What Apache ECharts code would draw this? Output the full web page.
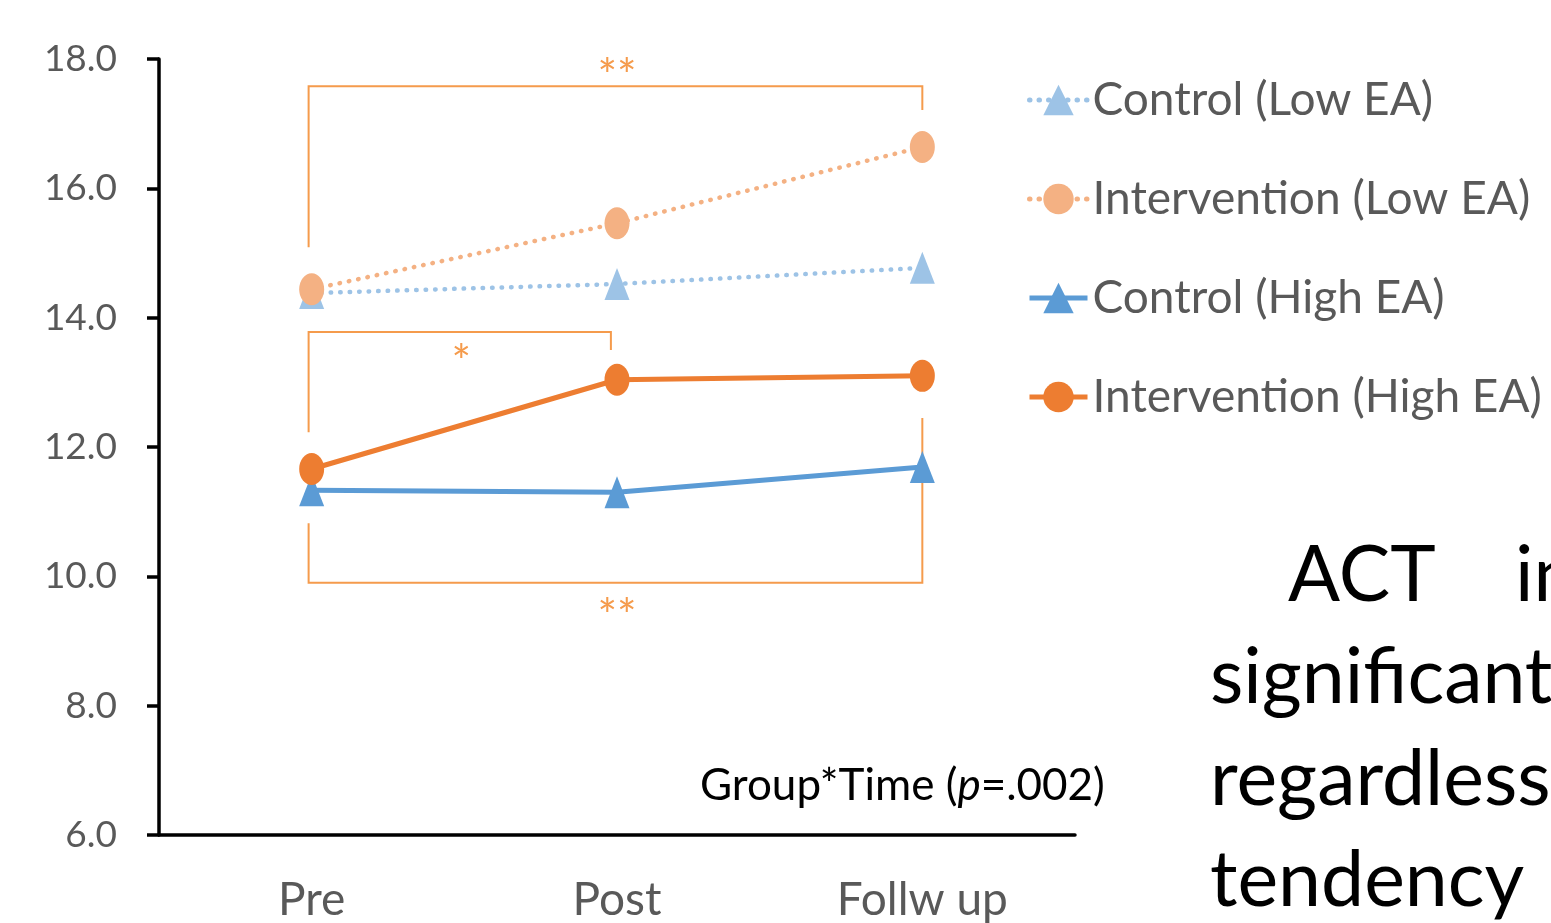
<!DOCTYPE html>
<html>
<head>
<meta charset="utf-8">
<style>
  html, body { margin: 0; padding: 0; background: #fff; }
  #chart { width: 1551px; height: 923px; }
</style>
<script src="https://cdn.jsdelivr.net/npm/echarts@6/dist/echarts.min.js"></script>
</head>
<body>
<div id="chart"></div>
<script>
// categories and series values
var timePoints = ["Pre", "Post", "Follw up"];
var controlLow = [14.38, 14.52, 14.77];
var interventionLow = [14.44, 15.46, 16.64];
var controlHigh = [11.33, 11.30, 11.69];
var interventionHigh = [11.66, 13.04, 13.10];
var seriesNames = ["Control (Low EA)", "Intervention (Low EA)", "Control (High EA)", "Intervention (High EA)"];

// significance brackets, in (category index, score) units
var bracketTop = [[-0.01, 15.09], [-0.01, 17.58], [2, 17.58], [2, 17.21]];
var bracketMid = [[-0.01, 12.23], [-0.01, 13.78], [0.98, 13.78], [0.98, 13.50]];
var bracketBottom = [[-0.01, 10.82], [-0.01, 9.90], [2, 9.90], [2, 12.45]];
var starLabels = [
  { text: "**", x: 1, y: 17.72 },
  { text: "*", x: 0.49, y: 13.30 },
  { text: "**", x: 1, y: 9.37 }
];

var fontFamily = "Lato, 'Open Sans', sans-serif";
var grey = "#595959";
var bracketColor = "#F59B4C";

var chartDom = document.getElementById("chart");
var myChart = echarts.init(chartDom);

function makeLine(name, data, color, dotted, symbol) {
  return {
    name: name,
    type: "line",
    data: data,
    symbol: symbol,
    symbolSize: [25, 32],
    itemStyle: { color: color },
    lineStyle: dotted
      ? { color: color, width: 4.5, type: [0.5, 9], cap: "round" }
      : { color: color, width: 5 },
    z: 3
  };
}

var brackets = [bracketTop, bracketMid, bracketBottom];

var option = {
  animation: false,
  grid: {
    left: 159,
    right: 476,
    top: 59,
    bottom: 88,
    containLabel: false
  },
  legend: {
    orient: "vertical",
    left: 1022,
    top: 70,
    itemWidth: 58,
    itemHeight: 38,
    itemGap: 49,
    data: seriesNames,
    lineStyle: { width: 5 },
    textStyle: {
      fontFamily: fontFamily,
      fontSize: 46,
      color: grey,
      lineHeight: 50
    }
  },
  xAxis: [
    {
      type: "category",
      data: timePoints,
      boundaryGap: true,
      axisLine: { lineStyle: { color: "#000", width: 3.5 } },
      axisTick: { show: false },
      axisLabel: {
        fontFamily: fontFamily,
        fontSize: 46,
        color: grey,
        margin: 42
      }
    },
    {
      type: "value",
      min: -0.5,
      max: 2.5,
      show: false
    }
  ],
  yAxis: {
    type: "value",
    min: 6,
    max: 18,
    interval: 2,
    splitLine: { show: false },
    axisLine: { show: true, onZero: false, lineStyle: { color: "#000", width: 3.5 } },
    axisTick: { show: true, length: 12, lineStyle: { color: "#000", width: 3.5 } },
    axisLabel: {
      fontFamily: fontFamily,
      fontSize: 37,
      color: grey,
      margin: 42,
      formatter: function (v) { return v.toFixed(1); }
    }
  },
  series: [
    makeLine(seriesNames[0], controlLow, "#9DC3E6", true, "triangle"),
    makeLine(seriesNames[1], interventionLow, "#F4B183", true, "circle"),
    makeLine(seriesNames[2], controlHigh, "#5B9BD5", false, "triangle"),
    makeLine(seriesNames[3], interventionHigh, "#ED7D31", false, "circle"),
    {
      name: "brackets",
      type: "custom",
      xAxisIndex: 1,
      clip: false,
      silent: true,
      z: 1,
      data: brackets.map(function (b, i) { return [i]; }),
      renderItem: function (params, api) {
        var pts = brackets[params.dataIndex].map(function (p) {
          return api.coord(p);
        });
        return {
          type: "polyline",
          shape: { points: pts },
          style: { stroke: bracketColor, lineWidth: 2, fill: null }
        };
      }
    },
    {
      name: "stars",
      type: "custom",
      xAxisIndex: 1,
      clip: false,
      silent: true,
      z: 2,
      data: starLabels.map(function (s) { return [s.x, s.y]; }),
      renderItem: function (params, api) {
        var p = api.coord([api.value(0), api.value(1)]);
        return {
          type: "text",
          x: p[0],
          y: p[1],
          style: {
            text: starLabels[params.dataIndex].text,
            fill: bracketColor,
            font: "46px " + fontFamily,
            align: "center",
            verticalAlign: "middle"
          }
        };
      }
    }
  ],
  graphic: [
    {
      type: "text",
      left: 700,
      top: 764,
      style: {
        text: "Group*Time ({i|p}=.002)",
        fill: "#000",
        font: "44px " + fontFamily,
        rich: {
          i: { fontStyle: "italic", fontSize: 44, fontFamily: fontFamily, fill: "#000" }
        }
      }
    },
    {
      type: "text",
      left: 1288,
      top: 538,
      style: { text: "ACT", fill: "#000", font: "77px " + fontFamily }
    },
    {
      type: "text",
      left: 1515,
      top: 538,
      style: { text: "in", fill: "#000", font: "77px " + fontFamily }
    },
    {
      type: "text",
      left: 1210,
      top: 640,
      style: { text: "significant", fill: "#000", font: "77px " + fontFamily }
    },
    {
      type: "text",
      left: 1210,
      top: 742,
      style: { text: "regardless", fill: "#000", font: "77px " + fontFamily }
    },
    {
      type: "text",
      left: 1210,
      top: 843,
      style: { text: "tendency", fill: "#000", font: "77px " + fontFamily }
    }
  ]
};

option && myChart.setOption(option);
</script>
</body>
</html>
